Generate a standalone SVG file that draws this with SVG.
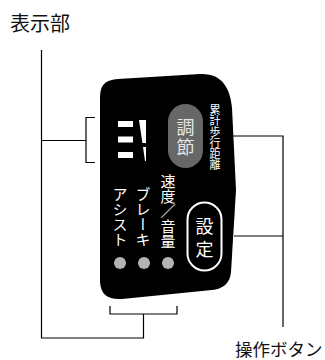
<svg xmlns="http://www.w3.org/2000/svg" width="325" height="360" viewBox="0 0 325 360">
<style>
.lbl{font-family:"Noto Sans CJK JP","Noto Sans",sans-serif;fill:#111}
.ln{fill:none;stroke:#000;stroke-width:1.2}
.vt{font-family:"Noto Sans CJK JP",sans-serif;writing-mode:vertical-rl;fill:#fff}
.btn{font-family:"Noto Sans CJK JP",sans-serif;writing-mode:vertical-rl;font-size:18px}
</style>
<rect width="325" height="360" fill="#fff"/>
<g id="connectors">
<path class="ln" d="M41.5 50 V338 H143.5 V314 M110 306 V314 H177 V306"/>
<path class="ln" d="M41.5 140.5 H86 M95 117.5 H86 V162.5 H95"/>
<path class="ln" d="M232 136 H283 V327 M234 236 H283"/>
</g>
<g id="label-display"><text class="lbl" x="10" y="31" font-size="20">表示部</text></g>
<g id="label-buttons"><text class="lbl" x="235" y="356" font-size="17.5">操作ボタン</text></g>
<g id="panel">
<path d="M100 98 C100 84 106 80 118 79 L200 74 C222 73 230 88 232 108 L236 190 L231 272 C230 284 222 289 212 290 L122 299 C108 300 101 295 100 282 Z" fill="#000"/>
</g>
<g id="display" fill="#fff">
<rect x="118" y="121" width="15" height="6"/>
<rect x="118" y="136.5" width="15" height="6"/>
<rect x="118" y="152" width="15" height="6"/>
<polygon points="139,120 146,120 146,143 142.4,143"/>
<polygon points="143,147 146,147 146,161 145,161"/>
</g>
<g id="btn-adjust">
<rect x="168" y="104" width="35" height="64" rx="17.5" fill="#676767"/>
<text class="btn" x="185.5" y="118" letter-spacing="2" fill="#e6e6e6">調節</text>
</g>
<g id="label-distance"><text class="vt" x="215" y="104" font-size="11">累計歩行距離</text></g>
<g id="label-modes">
<text class="vt" x="120" y="187" font-size="15">アシスト</text>
<text class="vt" x="143" y="187" font-size="15">ブレーキ</text>
<text class="vt" x="168" y="174" font-size="15">速度／音量</text>
</g>
<g id="leds" fill="#b3b3b3">
<circle cx="120" cy="263" r="6"/>
<circle cx="144" cy="263" r="6"/>
<circle cx="168" cy="263" r="6"/>
</g>
<g id="btn-set">
<rect x="187.5" y="202.5" width="34" height="68" rx="17" fill="#000" stroke="#fff" stroke-width="2"/>
<text class="btn" x="204.5" y="217" letter-spacing="5" fill="#fff">設定</text>
</g>
</svg>
